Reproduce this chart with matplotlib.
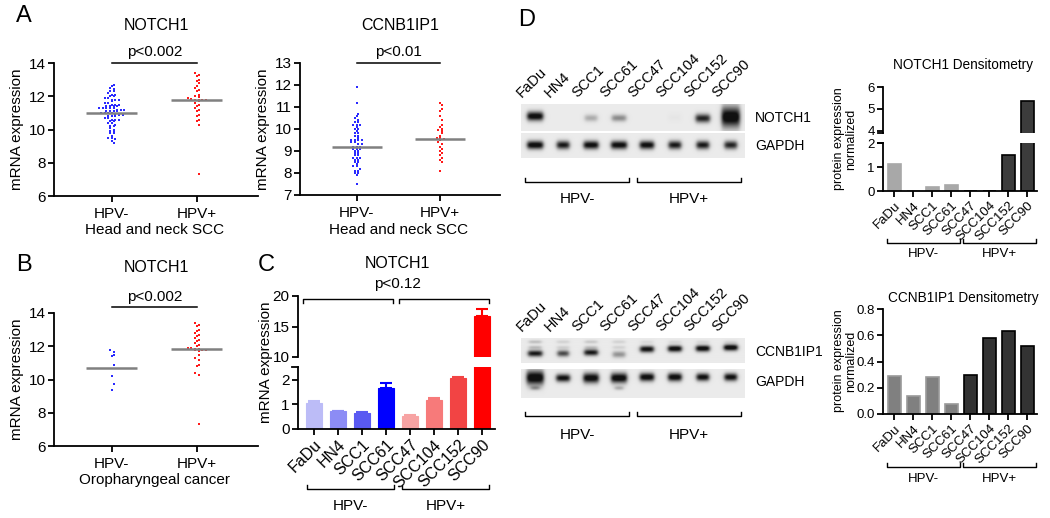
import numpy as np
import matplotlib
matplotlib.use('Agg')
import matplotlib.pyplot as plt
from matplotlib.transforms import Affine2D, blended_transform_factory

plt.rcParams['font.family'] = ['Liberation Sans', 'DejaVu Sans']

# ---------------- data ----------------
groups = ['HPV-', 'HPV+']

a_notch_neg = [12.7, 12.6, 12.5, 12.45, 12.3, 12.3, 12.2, 12.1, 12.1, 12.0, 12.0, 11.9, 11.9,
               11.8, 11.8, 11.8, 11.7, 11.6, 11.6, 11.5, 11.5, 11.5, 11.4, 11.4, 11.4, 11.4,
               11.3, 11.3, 11.3, 11.3, 11.3, 11.2, 11.2, 11.2, 11.1, 11.1, 11.1, 11.1, 11.0,
               11.0, 11.0, 11.0, 10.9, 10.9, 10.9, 10.8, 10.8, 10.8, 10.7, 10.7, 10.6, 10.6,
               10.6, 10.5, 10.5, 10.4, 10.4, 10.3, 10.2, 10.2, 10.1, 10.0, 9.9, 9.9, 9.8, 9.8,
               9.6, 9.5, 9.5, 9.4, 9.3, 9.2]
a_notch_pos = [13.4, 13.3, 13.2, 13.0, 12.9, 12.8, 12.6, 12.5, 12.4, 12.3, 12.1, 12.0, 11.95,
               11.9, 11.85, 11.8, 11.8, 11.8, 11.8, 11.75, 11.7, 11.6, 11.5, 11.4, 11.3, 11.2,
               11.1, 10.9, 10.8, 10.6, 10.5, 10.3, 7.3]
a_notch_means = [11.02, 11.77]

a_ccnb_neg = [11.9, 11.2, 10.7, 10.6, 10.5, 10.4, 10.3, 10.3, 10.2, 10.2, 10.2, 10.1, 10.0, 10.0,
              9.9, 9.8, 9.8, 9.7, 9.7, 9.6, 9.5, 9.5, 9.5, 9.5, 9.4, 9.4, 9.3, 9.3, 9.2, 9.2,
              9.2, 9.1, 9.1, 9.1, 9.0, 9.0, 8.9, 8.9, 8.8, 8.8, 8.7, 8.7, 8.7, 8.6, 8.6, 8.5,
              8.5, 8.4, 8.3, 8.3, 8.2, 8.1, 8.1, 8.0, 8.0, 7.9, 7.5]
a_ccnb_pos = [11.2, 11.1, 10.9, 10.8, 10.6, 10.4, 10.2, 10.1, 10.0, 9.95, 9.9, 9.8, 9.7, 9.6,
              9.6, 9.55, 9.5, 9.4, 9.3, 9.2, 9.1, 9.0, 8.9, 8.8, 8.7, 8.6, 8.5, 8.1]
a_ccnb_means = [9.18, 9.55]

b_notch_neg = [11.75, 11.65, 11.5, 11.4, 10.9, 10.2, 9.75, 9.35]
b_notch_pos = [13.4, 13.3, 13.2, 13.0, 12.9, 12.8, 12.7, 12.6, 12.5, 12.4, 12.3, 12.2, 12.1,
               12.0, 11.9, 11.9, 11.85, 11.85, 11.8, 11.8, 11.75, 11.7, 11.5, 11.3, 11.2,
               10.9, 10.8, 10.4, 10.3, 7.3]
b_notch_means = [10.7, 11.85]

cell_lines = ['FaDu', 'HN4', 'SCC1', 'SCC61', 'SCC47', 'SCC104', 'SCC152', 'SCC90']
c_mrna = [1.08, 0.72, 0.66, 1.67, 0.52, 1.20, 2.07, 16.8]
c_err = [0.05, 0.03, 0.04, 0.20, 0.06, 0.05, 0.07, 1.1]
c_colors = ['#bcbcf7', '#8c8cf5', '#5a5af2', '#0000ff', '#f7a3a3', '#f77a7a', '#f24444', '#ff0000']

d_notch_dens = [1.12, 0.0, 0.15, 0.25, 0.0, 0.0, 1.52, 5.35]
d_ccnb_dens = [0.29, 0.14, 0.28, 0.08, 0.30, 0.58, 0.63, 0.52]

# western blot band intensities (0..1) per lane
blot_notch1 = [0.95, 0.0, 0.25, 0.38, 0.0, 0.02, 0.8, 1.0]
blot_gapdh1 = [0.95, 0.85, 0.92, 0.92, 0.92, 0.85, 0.85, 0.8]
blot_ccnb = [0.85, 0.65, 0.85, 0.35, 0.88, 0.92, 0.92, 0.95]
blot_ccnb_upper = [0.18, 0.1, 0.14, 0.1, 0.07, 0.07, 0.07, 0.07]
blot_gapdh2 = [1.0, 0.9, 0.95, 0.97, 0.95, 0.95, 0.92, 0.92]
blot_gapdh2_lower = [0.3, 0.0, 0.0, 0.25, 0.0, 0.0, 0.0, 0.0]

# ---------------- layout helpers ----------------
W, H = 1050, 518
fig = plt.figure(figsize=(W / 100, H / 100), dpi=100)
PIX = Affine2D().scale(1 / W, -1 / H).translate(0, 1) + fig.transFigure


def add_ax(l, t, r, b):
    return fig.add_axes([l / W, 1 - b / H, (r - l) / W, (b - t) / H])


def ftext(x, y, s, **kw):
    kw.setdefault('ha', 'center')
    kw.setdefault('va', 'center')
    fig.text(x, y, s, transform=PIX, **kw)


def style(ax, fs=11):
    for s in ['top', 'right']:
        ax.spines[s].set_visible(False)
    for s in ['left', 'bottom']:
        ax.spines[s].set_linewidth(1.3)
    ax.tick_params(direction='out', length=4, width=1.3, labelsize=fs, pad=2)


def bracket(ax, x0, x1, y, tip, label=None, ly=None, fs=11):
    tr = blended_transform_factory(ax.transData, PIX)
    ax.plot([x0, x0, x1, x1], [y + tip, y, y, y + tip], transform=tr, color='k',
            lw=1.0, clip_on=False)
    if label:
        ax.text((x0 + x1) / 2, ly, label, transform=tr, ha='center', va='center', fontsize=fs)


def swarm(vals, bin_w, dx):
    vals = np.asarray(vals, dtype=float)
    keys = np.round(vals / bin_w).astype(int)
    offs = np.zeros(len(vals))
    for k in np.unique(keys):
        idx = np.where(keys == k)[0]
        n = len(idx)
        offs[idx] = (np.arange(n) - (n - 1) / 2) * dx
        if n == 1 and k % 2:
            offs[idx] = dx * 0.5
    return offs


def scatter_panel(box, data, means, ylim, yticks, bin_w, sig_y, ptxt, ptxt_y, sub, sub_y):
    ax = add_ax(*box)
    style(ax)
    cols = ['#2a2aff', '#ff1a1a']
    for i, vals in enumerate(data):
        off = swarm(vals, bin_w, 0.042)
        ax.scatter(i + off, vals, s=2.6, marker='s', color=cols[i], linewidths=0, zorder=3)
        ax.hlines(means[i], i - 0.3, i + 0.3, color='#808080', lw=1.8, zorder=4)
    ax.set_xlim(-0.68, 1.72)
    ax.set_ylim(*ylim)
    ax.set_yticks(yticks)
    ax.set_xticks([0, 1])
    ax.set_xticklabels(groups, fontsize=11)
    ax.tick_params(axis='x', pad=4)
    ax.set_ylabel('mRNA expression', fontsize=11, labelpad=3)
    tr = blended_transform_factory(ax.transData, PIX)
    ax.plot([0, 1], [sig_y, sig_y], transform=tr, color='k', lw=1.1, clip_on=False)
    ax.text(0.5, ptxt_y, ptxt, transform=tr, ha='center', va='center', fontsize=11)
    ax.text(0.5, sub_y, sub, transform=tr, ha='center', va='center', fontsize=11)
    return ax


# ---------------- panel A ----------------
ftext(24, 16, 'A', fontsize=17)
scatter_panel((54, 63, 258, 196), [a_notch_neg, a_notch_pos], a_notch_means, (6, 14),
              [6, 8, 10, 12, 14], 0.15, 63, 'p<0.002', 52, 'Head and neck SCC', 230)
ftext(156, 26, 'NOTCH1', fontsize=11.5)
scatter_panel((300, 63, 500, 195), [a_ccnb_neg, a_ccnb_pos], a_ccnb_means, (7, 13),
              list(range(7, 14)), 0.11, 63, 'p<0.01', 52, 'Head and neck SCC', 230)
ftext(400, 26, 'CCNB1IP1', fontsize=11.5)

# ---------------- panel B ----------------
ftext(24, 265, 'B', fontsize=17)
scatter_panel((54, 313, 258, 446), [b_notch_neg, b_notch_pos], b_notch_means, (6, 14),
              [6, 8, 10, 12, 14], 0.15, 307, 'p<0.002', 297, 'Oropharyngeal cancer', 480)
ftext(156, 267, 'NOTCH1', fontsize=11.5)

# ---------------- panel C ----------------
ftext(266, 265, 'C', fontsize=17)
ftext(397, 264, 'NOTCH1', fontsize=11.5)
ftext(397, 284, 'p<0.12', fontsize=11)
x = np.arange(len(cell_lines))
axu = add_ax(298, 296, 495, 357)
axl = add_ax(298, 367, 495, 429)
for ax in (axu, axl):
    style(ax)
    ax.bar(x, c_mrna, width=0.66, color=c_colors, edgecolor=c_colors, lw=0.8, zorder=2)
    for i in x:
        ax.errorbar(i, c_mrna[i], yerr=[[0], [c_err[i]]], fmt='none', ecolor=c_colors[i],
                    elinewidth=1.5, capsize=4, capthick=1.5, zorder=1)
    ax.set_xlim(-0.67, 7.54)
axu.set_ylim(10, 20)
axu.set_yticks([10, 15, 20])
axu.spines['bottom'].set_visible(False)
axu.set_xticks([])
axl.set_ylim(0, 2.53)
axl.set_yticks([0, 1, 2])
axl.plot([-0.03, 0.0], [1, 1], transform=axl.transAxes, color='k', lw=1.3, clip_on=False)
axl.set_xticks(x)
axl.set_xticklabels(cell_lines, rotation=45, ha='right', rotation_mode='anchor', fontsize=11.5)
ftext(266, 362, 'mRNA expression', rotation=90, fontsize=11)
bracket(axu, -0.45, 3.3, 299, 4)
bracket(axu, 3.55, 7.3, 299, 4)
bracket(axl, -0.3, 3.35, 489, -4, 'HPV-', 506)
bracket(axl, 3.65, 7.3, 489, -4, 'HPV+', 506)


# ---------------- panel D : blots ----------------
def blot(box, amps, yc, th, hw, extra=None):
    ax = add_ax(*box)
    xs = np.linspace(-0.5, 7.5, 448)
    ys = np.linspace(0, 1, 60)
    X, Y = np.meshgrid(xs, ys)
    img = np.full_like(X, 0.08)
    bands = [(amps, yc, th, hw)] + (extra or [])
    for a_list, yc_l, th_l, hw_l in bands:
        for i, a in enumerate(a_list):
            px = 1 / (1 + np.exp((np.abs(X - i) - hw_l[i]) / 0.04))
            py = np.exp(-((Y - yc_l[i]) / th_l[i]) ** 2)
            img += a * px * py
    img = np.clip(img, 0, 0.93)
    ax.imshow(img, cmap='gray_r', vmin=0, vmax=1, extent=[-0.5, 7.5, 0, 1], origin='lower',
              aspect='auto', interpolation='bilinear')
    ax.set_xlim(-0.5, 7.5)
    ax.set_ylim(0, 1)
    ax.axis('off')
    return ax


def lane_labels(ax, y):
    tr = blended_transform_factory(ax.transData, PIX)
    for i, name in enumerate(cell_lines):
        ax.text(i - 0.4, y, name, transform=tr, rotation=45, ha='left', va='bottom',
                rotation_mode='anchor', fontsize=10.5)


ftext(527, 20, 'D', fontsize=17)
n = len(cell_lines)
b1 = blot((521, 104, 745, 131), blot_notch1,
          [0.55, 0.5, 0.48, 0.48, 0.5, 0.5, 0.47, 0.52],
          [0.17, 0.15, 0.13, 0.13, 0.15, 0.15, 0.16, 0.38],
          [0.28, 0.22, 0.22, 0.25, 0.22, 0.22, 0.25, 0.32])
lane_labels(b1, 100)
b2 = blot((521, 133, 745, 158), blot_gapdh1, [0.5] * n, [0.16] * n,
          [0.28, 0.22, 0.26, 0.28, 0.25, 0.22, 0.22, 0.22])
ftext(755, 118, 'NOTCH1', ha='left', fontsize=10)
ftext(755, 146, 'GAPDH', ha='left', fontsize=10)
bracket(b2, -0.36, 3.36, 182, -4, 'HPV-', 199)
bracket(b2, 3.64, 7.36, 182, -4, 'HPV+', 199)

b3 = blot((521, 338, 745, 363), blot_ccnb,
          [0.38, 0.38, 0.42, 0.34, 0.55, 0.57, 0.58, 0.62], [0.13] * n,
          [0.25, 0.2, 0.24, 0.22, 0.24, 0.24, 0.24, 0.24],
          extra=[(blot_ccnb_upper, [0.85] * n, [0.07] * n, [0.22] * n),
                 (blot_ccnb_upper, [0.63] * n, [0.07] * n, [0.22] * n)])
lane_labels(b3, 334)
b4 = blot((521, 369, 745, 398), blot_gapdh2,
          [0.68, 0.67, 0.67, 0.67, 0.7, 0.7, 0.7, 0.7],
          [0.24, 0.13, 0.17, 0.17, 0.14, 0.14, 0.13, 0.13],
          [0.3, 0.24, 0.27, 0.28, 0.25, 0.24, 0.22, 0.22],
          extra=[(blot_gapdh2_lower, [0.33] * n, [0.07] * n, [0.15] * n)])
ftext(755, 352, 'CCNB1IP1', ha='left', fontsize=10)
ftext(755, 382, 'GAPDH', ha='left', fontsize=10)
bracket(b4, -0.36, 3.36, 416, -4, 'HPV-', 435)
bracket(b4, 3.64, 7.36, 416, -4, 'HPV+', 435)

# ---------------- panel D : densitometry ----------------
dens_neg1, dens_pos1 = '#a8a8a8', '#3c3c3c'
cols1 = [dens_neg1] * 4 + [dens_pos1] * 4
edges1 = [dens_neg1] * 4 + ['#000000'] * 4
ftext(963, 65, 'NOTCH1 Densitometry', fontsize=9.8)
du = add_ax(883, 87, 1037, 133)
dl = add_ax(883, 143, 1037, 191)
for ax in (du, dl):
    style(ax, fs=9.5)
    ax.bar(x, d_notch_dens, width=0.68, color=cols1, edgecolor=edges1, lw=1.2)
    ax.set_xlim(-0.58, 7.5)
du.set_ylim(3.9, 6)
du.set_yticks([4, 5, 6])
du.spines['bottom'].set_visible(False)
du.set_xticks([])
dl.set_ylim(0, 2)
dl.set_yticks([0, 1, 2])
dl.plot([-0.03, 0.0], [1, 1], transform=dl.transAxes, color='k', lw=1.3, clip_on=False)
du.plot([-0.03, 0.0], [0, 0], transform=du.transAxes, color='k', lw=1.3, clip_on=False)
dl.set_xticks(x)
dl.set_xticklabels(cell_lines, rotation=45, ha='right', rotation_mode='anchor', fontsize=9.5)
ftext(845, 139, 'protein expression\nnormalized', rotation=90, fontsize=9, linespacing=1.0)
bracket(dl, -0.37, 3.45, 243, -4, 'HPV-', 254, fs=9.5)
bracket(dl, 3.6, 7.45, 243, -4, 'HPV+', 254, fs=9.5)

dens_neg2, dens_pos2 = '#808080', '#333333'
cols2 = [dens_neg2] * 4 + [dens_pos2] * 4
edges2 = ['#9a9a9a'] * 4 + ['#000000'] * 4
ftext(963, 298, 'CCNB1IP1 Densitometry', fontsize=9.8)
dc = add_ax(883, 309, 1037, 414)
style(dc, fs=9.5)
dc.bar(x, d_ccnb_dens, width=0.68, color=cols2, edgecolor=edges2, lw=1.2)
dc.set_xlim(-0.58, 7.5)
dc.set_ylim(0, 0.8)
dc.set_yticks([0, 0.2, 0.4, 0.6, 0.8])
dc.set_yticklabels(['0.0', '0.2', '0.4', '0.6', '0.8'])
dc.set_xticks(x)
dc.set_xticklabels(cell_lines, rotation=45, ha='right', rotation_mode='anchor', fontsize=9.5)
ftext(845, 361, 'protein expression\nnormalized', rotation=90, fontsize=9, linespacing=1.0)
bracket(dc, -0.37, 3.45, 467, -4, 'HPV-', 479, fs=9.5)
bracket(dc, 3.6, 7.45, 467, -4, 'HPV+', 479, fs=9.5)

fig.savefig('out.png', dpi=100)
